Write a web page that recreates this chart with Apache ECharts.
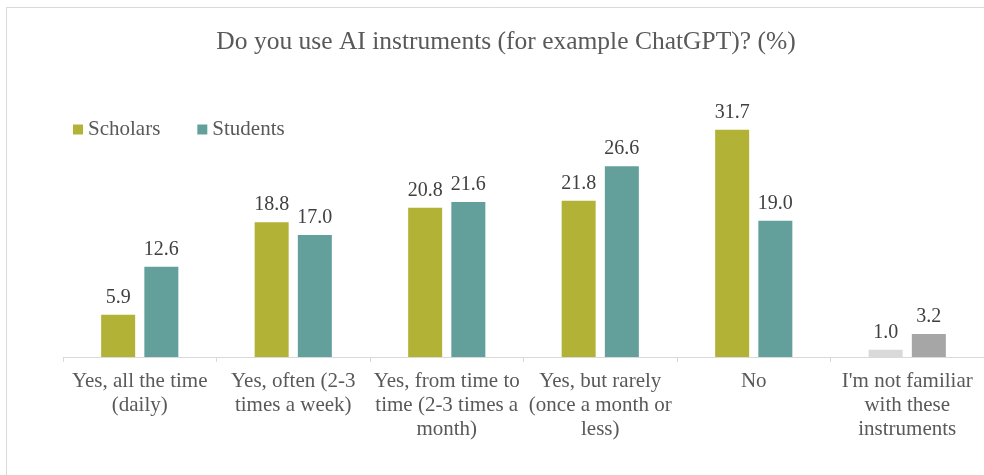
<!DOCTYPE html>
<html>
<head>
<meta charset="utf-8">
<script src="https://cdn.jsdelivr.net/npm/echarts@6/dist/echarts.min.js"></script>
<style>
html,body{margin:0;padding:0;background:#fff;}
#chart{width:984px;height:475px;}
</style>
</head>
<body>
<div id="chart"></div>
<script>
const categories = [
  "Yes, all the time\n(daily)",
  "Yes, often (2-3\ntimes a week)",
  "Yes, from time to\ntime (2-3 times a\nmonth)",
  "Yes, but rarely\n(once a month or\nless)",
  "No",
  "I'm not familiar\nwith these\ninstruments"
];
const scholars = [5.9, 18.8, 20.8, 21.8, 31.7, 1.0];
const students = [12.6, 17.0, 21.6, 26.6, 19.0, 3.2];

const SCH = '#b2b236', STU = '#63a09c';
const GRAY_L = '#d9d9d9', GRAY_D = '#a6a6a6';
const FONT = '"Liberation Serif", "Times New Roman", serif';

function items(vals, grayColor) {
  return vals.map((v, i) => i === vals.length - 1
    ? { value: v, itemStyle: { color: grayColor } }
    : v);
}

const chart = echarts.init(document.getElementById('chart'), null, { renderer: 'canvas' });
chart.setOption({
  animation: false,
  backgroundColor: '#fff',
  title: {
    text: 'Do you use AI instruments (for example ChatGPT)? (%)',
    left: 501, top: 24, textAlign: 'center',
    textStyle: { fontFamily: FONT, fontSize: 25.5, fontWeight: 'normal', color: '#595959' }
  },
  legend: {
    left: 68, top: 114,
    itemWidth: 10, itemHeight: 10, itemGap: 37,
    icon: 'rect',
    textStyle: { fontFamily: FONT, fontSize: 21, color: '#595959' },
    data: ['Scholars', 'Students']
  },
  grid: { left: 63, right: 0, top: 106, bottom: 118, containLabel: false },
  xAxis: {
    type: 'category',
    data: categories,
    axisLine: { lineStyle: { color: '#d9d9d9', width: 1 } },
    axisTick: { show: true, length: 5, lineStyle: { color: '#d9d9d9' } },
    axisLabel: {
      interval: 0, margin: 12,
      fontFamily: FONT, fontSize: 21, lineHeight: 24, color: '#595959'
    }
  },
  yAxis: {
    type: 'value', min: 0, max: 35,
    show: false,
    splitLine: { show: false }
  },
  series: [
    {
      name: 'Scholars', type: 'bar', data: items(scholars, GRAY_L),
      barWidth: 34, barGap: '27%',
      itemStyle: { color: SCH },
      label: { show: true, position: 'top', distance: 7, formatter: p => p.value.toFixed(1),
        fontFamily: FONT, fontSize: 20, color: '#404040' }
    },
    {
      name: 'Students', type: 'bar', data: items(students, GRAY_D),
      barWidth: 34,
      itemStyle: { color: STU },
      label: { show: true, position: 'top', distance: 7, formatter: p => p.value.toFixed(1),
        fontFamily: FONT, fontSize: 20, color: '#404040' }
    }
  ],
  graphic: [
    { type: 'line', shape: { x1: 6.5, y1: 7.5, x2: 984, y2: 7.5 }, style: { stroke: '#d9d9d9', lineWidth: 1 } },
    { type: 'line', shape: { x1: 6.5, y1: 7.5, x2: 6.5, y2: 475 }, style: { stroke: '#d9d9d9', lineWidth: 1 } }
  ]
});
</script>
</body>
</html>
